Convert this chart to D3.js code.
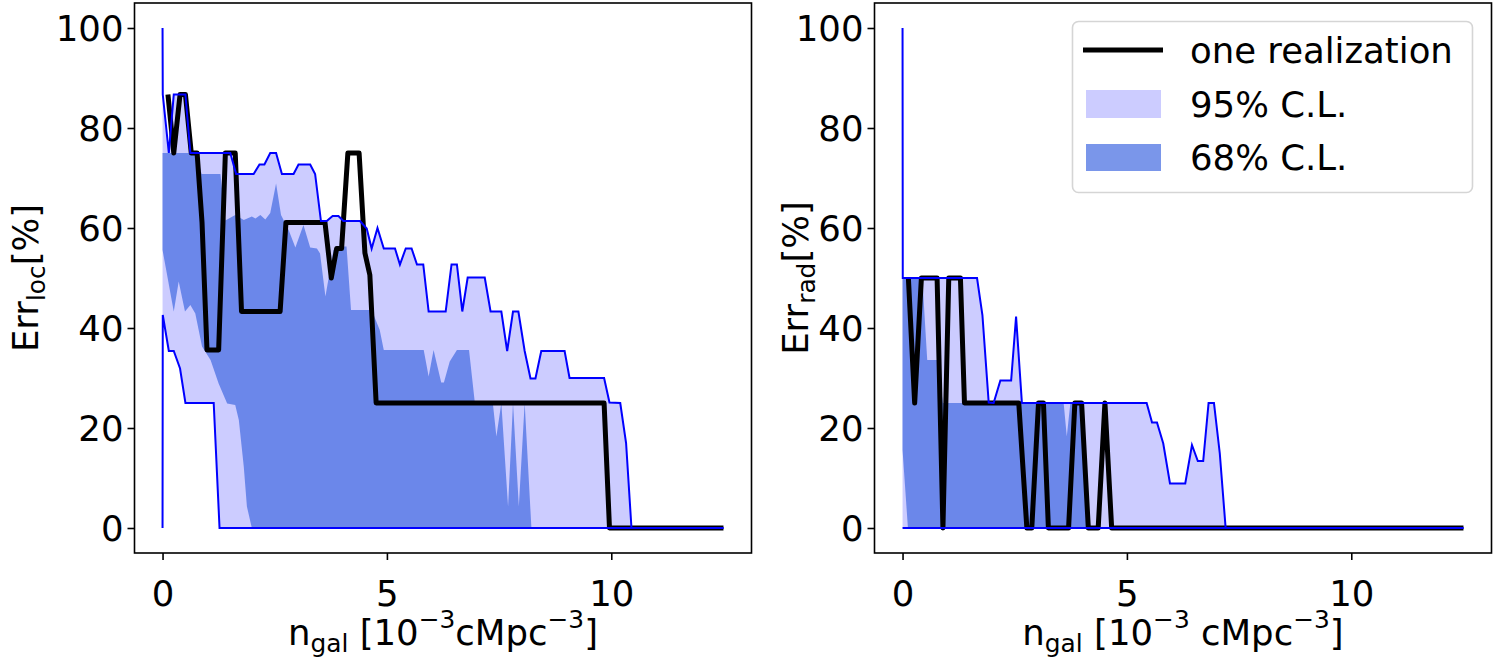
<!DOCTYPE html>
<meta charset="utf-8">
<style>
  body { margin: 0; background: #fff; }
  svg text { font-family: "DejaVu Sans", sans-serif; fill: #000; }
  .frame { fill: none; stroke: #000; stroke-width: 1.6; }
  .tick line { stroke: #000; stroke-width: 1.6; }
</style>
<body></body>
<script src="https://cdn.jsdelivr.net/npm/d3@7"></script>
<script>

// ticks
var xTicks = [0, 5, 10];
var yTicks = [0, 20, 40, 60, 80, 100];

// left panel: localisation error, [n_gal, err%]
var locHi95 = [[0,100],[0.005,86.7],[0.14,75],[0.25,86.7],[0.51,86.7],[0.62,75],[1.51,75],[1.64,70.8],
  [2.03,70.8],[2.16,72.7],[2.27,72.7],[2.4,75],[2.53,75],[2.66,70.8],[2.92,70.8],[3.03,72.7],[3.29,72.7],
  [3.4,70.8],[3.53,61.4],[3.66,61.4],[3.79,62.4],[3.92,62.4],[4.03,61.4],[4.4,61.4],[4.55,59.9],[4.66,55.9],
  [4.79,60],[4.93,55.9],[5.18,55.9],[5.29,52.7],[5.42,55.9],[5.55,55.9],[5.67,52.7],[5.81,52.7],[5.93,43.3],
  [6.31,43.3],[6.44,52.7],[6.56,52.7],[6.68,43.3],[6.8,50.1],[7.18,50.1],[7.31,43.3],[7.55,43.3],[7.68,35.4],
  [7.81,43.3],[7.93,43.3],[8.07,35.4],[8.2,29.9],[8.31,29.9],[8.44,35.4],[8.96,35.4],[9.07,30],[9.84,30],
  [9.96,25.1],[10.2,25],[10.33,17],[10.45,0],[12.5,0]];
var locLo95 = [[0,0],[0.005,42.6],[0.14,35.4],[0.25,35.4],[0.39,31.9],[0.51,25],[1.14,25],[1.27,0],[12.5,0]];
var locHi68 = [[0,75],[0.75,75],[0.87,70.8],[1.29,70.8],[1.4,61.5],[1.62,62.6],[1.81,61.6],[1.99,62.3],
  [2.07,61.9],[2.18,62.6],[2.29,61.7],[2.4,63],[2.53,68.9],[2.64,62.6],[2.81,59.6],[2.96,56.1],[3.14,60.6],
  [3.29,56.1],[3.44,55.9],[3.51,54.9],[3.63,46.3],[3.81,55.6],[3.96,56.3],[4.1,56.3],[4.2,43.6],[4.66,43.6],
  [4.84,39.6],[4.93,35.6],[5.82,35.6],[5.93,30.3],[6.04,35.6],[6.21,29.1],[6.27,29.1],[6.4,33.3],[6.56,35.6],
  [6.83,35.6],[6.96,25],[7.36,25],[7.44,18.3],[7.55,25],[7.7,4.3],[7.81,25],[7.94,4.3],[8.07,25],[8.22,0],[12.5,0]];
var locLo68 = [[0,55.6],[0.25,43.3],[0.36,49.3],[0.5,43.3],[0.62,44.6],[0.73,42.9],[0.88,36.3],[1.07,33.6],
  [1.25,28.9],[1.44,24.9],[1.62,24.6],[1.7,21.6],[1.81,12.3],[1.88,4.3],[1.99,0],[12.5,0]];
var locReal = [[0.12,86.7],[0.25,75],[0.39,86.7],[0.51,86.7],[0.64,75],[0.77,75],[0.88,61.1],[0.99,35.6],
  [1.25,35.6],[1.4,75],[1.62,75],[1.76,43.3],[2.62,43.3],[2.75,61.1],[3.62,61.1],[3.76,50],[3.88,55.9],
  [3.99,55.9],[4.13,75],[4.38,75],[4.51,55],[4.62,50.6],[4.76,25],[9.84,25],[9.96,0],[12.5,0]];

// right panel: radius error
var radHi95 = [[0,100],[0.005,50],[1.66,50],[1.78,42.6],[1.92,25.1],[2.03,25],[2.18,29.5],[2.42,29.5],
  [2.53,42.3],[2.66,25],[5.44,25],[5.56,21.1],[5.67,21.1],[5.81,16.9],[5.96,8.9],[6.3,8.9],[6.45,16.6],
  [6.58,13.4],[6.7,13.4],[6.82,25],[6.94,25],[7.07,14.9],[7.2,0],[12.5,0]];
var radLo95 = [[0,0],[12.5,0]];
var radHi68 = [[0,50],[0.44,50],[0.55,33.6],[0.77,33.6],[0.9,25],[3.59,25],[3.66,18.3],[3.74,25],[3.97,25],
  [4.1,0],[12.5,0]];
var radLo68 = [[0,15.6],[0.12,0],[12.5,0]];
var radReal = [[0.13,50],[0.27,25],[0.42,50],[0.77,50],[0.9,0],[1.03,50],[1.29,50],[1.38,25],[2.59,25],
  [2.77,0],[2.88,0],[3.03,25],[3.14,25],[3.25,0],[3.7,0],[3.84,25],[3.99,25],[4.14,0],[4.36,0],[4.51,25],
  [4.66,0],[12.5,0]];

var legendLabels = ["one realization", "95% C.L.", "68% C.L."];

var W = 1509, H = 657;
var plotW = 617, plotTop = 3, plotH = 550;
var fs = 35.5;

var svg = d3.select("body").append("svg")
    .attr("width", W)
    .attr("height", H);

// write mathtext-ish labels with sub/superscripts
function richText(sel, parts) {
    var shift = 0;
    parts.forEach(function(p) {
        var target = p.s == "sub" ? 0.2 * fs : p.s == "sup" ? -0.47 * fs : 0;
        sel.append("tspan")
            .attr("dy", target - shift)
            .attr("font-size", p.s ? fs * 0.7 : fs)
            .text(p.t);
        shift = target;
    });
}

function panel(x0, hi95, lo95, hi68, lo68, real, right) {
    var x = d3.scaleLinear().domain([-0.625, 13.125]).range([x0, x0 + plotW]);
    var y = d3.scaleLinear().domain([-5, 105]).range([plotTop + plotH, plotTop]);
    var line = d3.line().x(function(d){ return x(d[0]); }).y(function(d){ return y(d[1]); });

    var g = svg.append("g");

    // bands: upper edge forward, lower edge back
    g.append("path")
        .attr("d", line(hi95.concat(lo95.slice().reverse())) + "Z")
        .attr("fill", "blue").attr("fill-opacity", 0.2);
    g.append("path")
        .attr("d", line(hi68.concat(lo68.slice().reverse())) + "Z")
        .attr("fill", "royalblue").attr("fill-opacity", 0.7);

    g.append("path")
        .attr("d", line(real))
        .attr("fill", "none").attr("stroke", "#000")
        .attr("stroke-width", 5).attr("stroke-linejoin", "round");

    [hi95, lo95].forEach(function(s) {
        g.append("path")
            .attr("d", line(s))
            .attr("fill", "none").attr("stroke", "blue").attr("stroke-width", 2);
    });

    var xa = g.append("g")
        .attr("transform", "translate(0," + (plotTop + plotH) + ")")
        .call(d3.axisBottom(x).tickValues(xTicks).tickSize(7));
    var ya = g.append("g")
        .attr("transform", "translate(" + x0 + ",0)")
        .call(d3.axisLeft(y).tickValues(yTicks).tickSize(7).tickPadding(4));
    [xa, ya].forEach(function(a) {
        a.select(".domain").remove();
        a.selectAll("text").attr("font-size", fs);
        a.attr("font-family", null).attr("font-size", null);
    });
    xa.selectAll("text").attr("dy", null).attr("y", 53);
    ya.selectAll("text").attr("dy", "0.36em");

    g.append("rect")
        .attr("class", "frame")
        .attr("x", x0).attr("y", plotTop)
        .attr("width", plotW).attr("height", plotH);

    var xl = g.append("text")
        .attr("x", x0 + plotW / 2).attr("y", 645)
        .attr("text-anchor", "middle");
    richText(xl, [{t: "n"}, {t: "gal", s: "sub"}, {t: " [10"}, {t: "\u22123", s: "sup"},
        {t: right ? " cMpc" : "cMpc"}, {t: "\u22123", s: "sup"}, {t: "]"}]);

    var yl = g.append("text")
        .attr("transform", "translate(" + (x0 - (right ? 67 : 97)) + "," + (plotTop + plotH / 2) + ") rotate(-90)")
        .attr("text-anchor", "middle");
    richText(yl, [{t: "Err"}, {t: right ? "rad" : "loc", s: "sub"}, {t: "[%]"}]);

    return g;
}

panel(134.5, locHi95, locLo95, locHi68, locLo68, locReal, false);
panel(874.5, radHi95, radLo95, radHi68, radLo68, radReal, true);

// legend
var lg = svg.append("g");
lg.append("rect")
    .attr("x", 1072.5).attr("y", 21.5).attr("width", 400).attr("height", 171)
    .attr("rx", 6).attr("fill", "#fff").attr("fill-opacity", 0.8)
    .attr("stroke", "#d5d5d5").attr("stroke-width", 1.6);
lg.append("line")
    .attr("x1", 1083).attr("x2", 1163).attr("y1", 50).attr("y2", 50)
    .attr("stroke", "#000").attr("stroke-width", 5);
lg.append("rect")
    .attr("x", 1086).attr("y", 90).attr("width", 75).attr("height", 28)
    .attr("fill", "blue").attr("fill-opacity", 0.2);
lg.append("rect")
    .attr("x", 1086).attr("y", 144).attr("width", 75).attr("height", 27)
    .attr("fill", "royalblue").attr("fill-opacity", 0.7);
lg.selectAll("text.lab")
    .data(legendLabels)
    .enter().append("text")
    .attr("class", "lab")
    .attr("x", 1190)
    .attr("y", function(d, i) { return [50, 104, 157.5][i]; })
    .attr("dy", "0.36em")
    .attr("font-size", fs)
    .text(function(d) { return d; });

</script>
